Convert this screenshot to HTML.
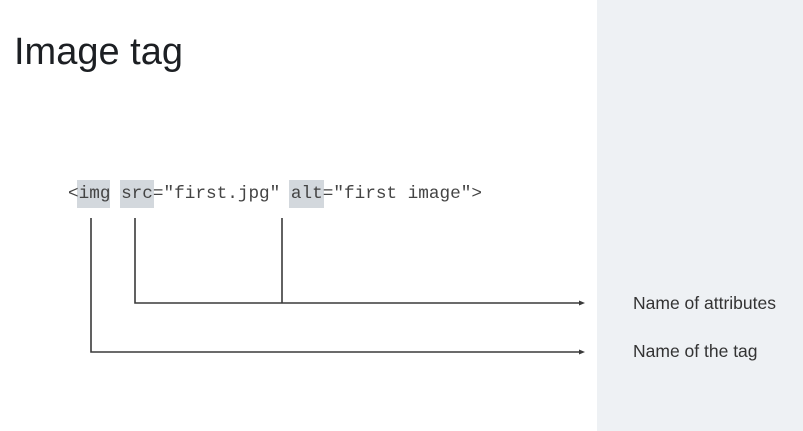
<!DOCTYPE html>
<html><head><meta charset="utf-8"><style>
body{margin:0;width:803px;height:431px;overflow:hidden;background:#fff;position:relative;font-family:"Liberation Sans",sans-serif}
.panel{position:absolute;left:597px;top:0;width:206px;height:431px;background:#eef1f4}
.title{position:absolute;left:14px;top:31px;font-size:38px;color:#1c1f23;white-space:nowrap}
.code{position:absolute;left:68px;top:181px;font-family:"Liberation Mono",monospace;font-size:17.7px;color:#444;white-space:pre;line-height:26px}
.hl{position:absolute;background:#d3d8dd}
.lab{position:absolute;left:633px;font-size:17.5px;color:#333;white-space:nowrap}
</style></head><body>
<div class="panel"></div>
<div class="title">Image tag</div>
<div class="hl" style="left:77px;top:180px;width:33px;height:28px"></div>
<div class="hl" style="left:120px;top:180px;width:34px;height:28px"></div>
<div class="hl" style="left:289px;top:180px;width:35px;height:28px"></div>
<div class="code">&lt;img src="first.jpg" alt="first image"&gt;</div>
<svg width="803" height="431" style="position:absolute;left:0;top:0">
<g stroke="#3a3a3a" stroke-width="1.6" fill="none">
<polyline points="91,218 91,352 580,352"/>
<polyline points="135,218 135,303 580,303"/>
<line x1="282" y1="218" x2="282" y2="303"/>
</g>
<polygon points="585,303 579,300.5 579,305.5" fill="#3a3a3a"/>
<polygon points="585,352 579,349.5 579,354.5" fill="#3a3a3a"/>
</svg>
<div class="lab" style="top:293px">Name of attributes</div>
<div class="lab" style="top:341px">Name of the tag</div>
</body></html>
